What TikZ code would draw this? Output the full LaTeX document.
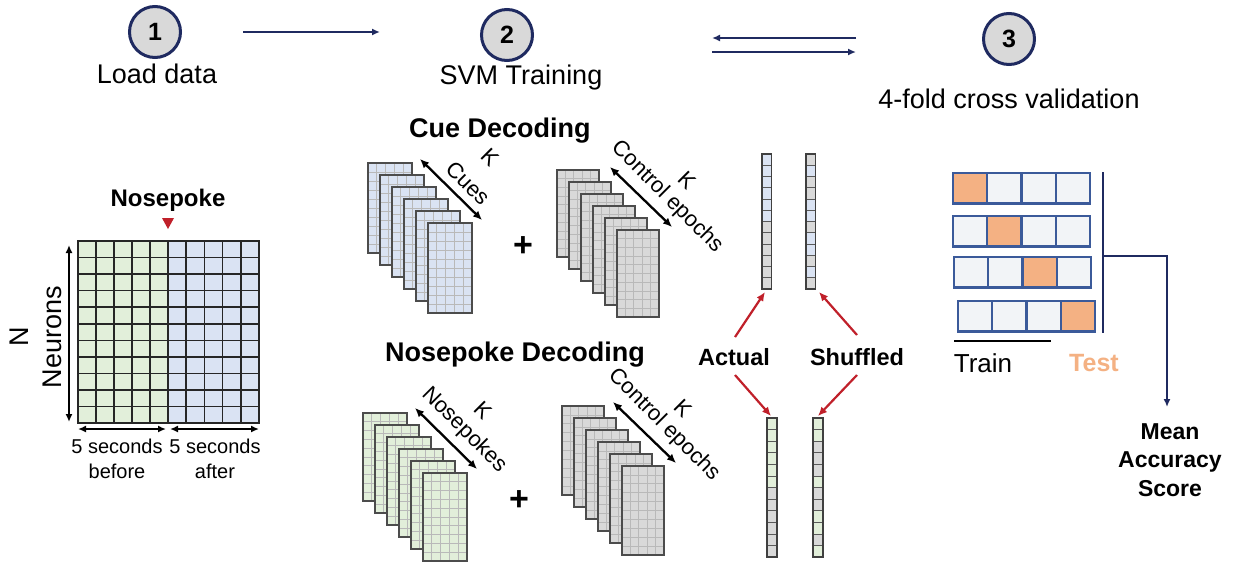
\documentclass[tikz,border=0pt]{standalone}
\usepackage{fontspec}
\setmainfont{Liberation Sans}
\usetikzlibrary{arrows.meta}
\definecolor{navy}{HTML}{1F2A60}
\definecolor{circg}{HTML}{D9D9D9}
\definecolor{npgreen}{HTML}{E2EFDA}
\definecolor{cueblue}{HTML}{DAE3F3}
\definecolor{shgray}{HTML}{D9D9D9}
\definecolor{orng}{HTML}{F4B183}
\definecolor{cvfill}{HTML}{F2F4F7}
\definecolor{cvline}{HTML}{3B5A9A}
\definecolor{redc}{HTML}{C0202A}
\newcommand\mysheet[5]{%
  \fill[#5] (#1,#2) rectangle ++(#3,#4);
  \foreach \i in {1,...,4} \draw[sheetgrid] ({#1+\i*#3/5},#2) -- ++(0,#4);
  \foreach \j in {1,...,9} \draw[sheetgrid] (#1,{#2+\j*#4/10}) -- ++(#3,0);
  \draw[sheetborder] (#1,#2) rectangle ++(#3,#4);
  \draw[sheetborder, line width=2.4pt] (#1,{#2+#4}) -- ++(#3,0);
}
\newcommand\myvec[5]{%
  \foreach \c [count=\n from 0] in {#5} {
    \fill[\c] (#1,{#2+\n*#4}) rectangle ++(#3,#4);
    \draw[vecgrid] (#1,{#2+\n*#4}) -- ++(#3,0);
  }
  \draw[vecborder] (#1,#2) rectangle ++(#3,{12*#4});
}
\tikzset{
  stepcirc/.style={circle, draw=navy, line width=3pt, fill=circg, minimum size=51pt, inner sep=0pt, font=\fontsize{25}{27}\selectfont\bfseries},
  big/.style={font=\fontsize{27}{32}\selectfont},
  bigbold/.style={font=\fontsize{27}{32}\selectfont\bfseries},
  midbold/.style={font=\fontsize{23.5}{28}\selectfont\bfseries},
  smalltxt/.style={font=\fontsize{20}{25}\selectfont, align=center},
  ktxt/.style={font=\fontsize{22}{26}\selectfont, rotate=-45},
  plus/.style={font=\fontsize{34}{36}\selectfont\bfseries},
  navyarrow/.style={draw=navy, line width=2pt, -{Latex[length=8pt,width=7pt]}},
  redarrow/.style={draw=redc, line width=2.2pt, -{Latex[length=9pt,width=8pt]}},
  karrow/.style={draw=black, line width=2.3pt, {Latex[length=9pt,width=8pt]}-{Latex[length=9pt,width=8pt]}},
  blackarrow/.style={draw=black, line width=2.3pt, {Latex[length=8pt,width=7pt]}-{Latex[length=8pt,width=7pt]}},
  sheetgrid/.style={draw=gray!55, line width=0.7pt},
  sheetborder/.style={draw=black!70, line width=1.5pt},
  datagrid/.style={draw=black!85, line width=1.6pt},
  vecgrid/.style={draw=black!65, line width=0.9pt},
  vecborder/.style={draw=black!75, line width=1.5pt},
  cvcell/.style={draw=cvline, line width=2.2pt},
}
\begin{document}
\begin{tikzpicture}[x=1pt,y=-1pt]
\useasboundingbox (0,0) rectangle (1236,563);

% ---- steps ----
\node[stepcirc] (c1) at (155,32) {1};
\node[stepcirc] (c2) at (507,35) {2};
\node[stepcirc] (c3) at (1009,39) {3};
\node[big] (l1) at (157,74) {Load data};
\node[big] (l2) at (521,78) {SVM Training};
\node[big] (l3) at (1009,99) {4-fold cross validation};
\coordinate (a1s) at (243,32); \coordinate (a1e) at (380,32);
\draw[navyarrow] (a1s) -- (a1e);
\coordinate (a2s) at (856,38); \coordinate (a2e) at (712,38);
\draw[navyarrow] (a2s) -- (a2e);
\coordinate (a3s) at (712,52); \coordinate (a3e) at (856,52);
\draw[navyarrow] (a3s) -- (a3e);

% ---- data matrix ----
\fill[npgreen] (78,241) rectangle (168,423);
\fill[cueblue] (168,241) rectangle (259,423);
\foreach \i in {1,...,4} {
  \draw[datagrid] ({78+\i*18},241) -- ({78+\i*18},423);
  \draw[datagrid] ({168+\i*18.2},241) -- ({168+\i*18.2},423);
}
\foreach \j in {1,...,10} \draw[datagrid] (78,{241+\j*16.55}) -- (259,{241+\j*16.55});
\draw[draw=black!85, line width=1.8pt] (78,241) rectangle (259,423);
\draw[draw=black!85, line width=2.6pt] (168,241) -- (168,423);
\node[font=\fontsize{24}{28}\selectfont\bfseries] (np) at (168,200) {Nosepoke};
\fill[redc] (162,218) -- (174,218) -- (168,229) -- cycle;
\coordinate (nt) at (69,245); \coordinate (nb) at (69,422);
\draw[blackarrow] (nt) -- (nb);
\node[big, rotate=90, align=center, font=\fontsize{27}{33}\selectfont] (neur) at (36,337) {N\\Neurons};
\coordinate (b1) at (78,429); \coordinate (b2) at (166,429);
\coordinate (b3) at (170,429); \coordinate (b4) at (259,429);
\draw[blackarrow] (b1) -- (b2);
\draw[blackarrow] (b3) -- (b4);
\node[smalltxt] (bef) at (117,459) {5 seconds\\before};
\node[smalltxt] (aft) at (215,459) {5 seconds\\after};

% ---- decoding stacks ----
\node[bigbold] (cuedec) at (500,131) {Cue Decoding};
\node[bigbold] (npdec) at (515,355) {Nosepoke Decoding};
\foreach \k in {0,...,5} \mysheet{368+12*\k}{163+12*\k}{44}{90}{cueblue};
\foreach \k in {0,...,5} \mysheet{557+12*\k}{170+12*\k}{42}{87}{shgray};
\foreach \k in {0,...,5} \mysheet{363+12*\k}{413+12*\k}{44}{88}{npgreen};
\foreach \k in {0,...,5} \mysheet{562+12*\k}{406+12*\k}{42}{89}{shgray};
\node[plus] (p1) at (523,247) {+};
\node[plus] (p2) at (519,501) {+};

\coordinate (k1a) at (420,159); \coordinate (k1b) at (482,220);
\draw[karrow] (k1a) -- (k1b);
\node[ktxt] (cues) at (468,183) {Cues};
\node[ktxt] (k1) at (490,157) {K};
\coordinate (k2a) at (610,167); \coordinate (k2b) at (672,227);
\draw[karrow] (k2a) -- (k2b);
\node[ktxt] (ce1) at (667,197) {Control epochs};
\node[ktxt] (k2) at (687,180) {K};
\coordinate (k3a) at (415,408); \coordinate (k3b) at (477,469);
\draw[karrow] (k3a) -- (k3b);
\node[ktxt] (nps) at (464,430) {Nosepokes};
\node[ktxt] (k3) at (483,410) {K};
\coordinate (k4a) at (613,402); \coordinate (k4b) at (676,463);
\draw[karrow] (k4a) -- (k4b);
\node[ktxt] (ce2) at (664,425) {Control epochs};
\node[ktxt] (k4) at (683,408) {K};

% ---- label vectors ----
\myvec{762}{154}{9.5}{11.25}{cueblue,cueblue,cueblue,cueblue,cueblue,cueblue,shgray,shgray,shgray,shgray,shgray,shgray}
\myvec{806}{154}{9.5}{11.25}{shgray,cueblue,shgray,shgray,cueblue,cueblue,shgray,cueblue,cueblue,shgray,cueblue,shgray}
\myvec{767}{418}{10}{11.6}{npgreen,npgreen,npgreen,npgreen,npgreen,npgreen,shgray,shgray,shgray,shgray,shgray,shgray}
\myvec{813}{418}{10}{11.6}{npgreen,npgreen,shgray,shgray,shgray,npgreen,shgray,shgray,npgreen,npgreen,shgray,npgreen}
\node[midbold] (act) at (734,357) {Actual};
\node[midbold] (shf) at (857,357) {Shuffled};
\coordinate (v1) at (765,292); \coordinate (v2) at (819,292);
\coordinate (v3) at (771,416); \coordinate (v4) at (818,416);
\coordinate (r1) at (735,337); \coordinate (r2) at (857,335);
\coordinate (r3) at (735,375); \coordinate (r4) at (857,375);
\draw[redarrow] (r1) -- (v1);
\draw[redarrow] (r2) -- (v2);
\draw[redarrow] (r3) -- (v3);
\draw[redarrow] (r4) -- (v4);

% ---- cross validation ----
\foreach \x/\y/\o in {953/173/0, 953/216/1, 954/257/2, 958/301/3} {
  \foreach \m in {0,...,3} {
    \ifnum\m=\o
      \filldraw[cvcell, fill=orng] ({\x+\m*34.25},\y) rectangle ++(34.25,30.5);
    \else
      \filldraw[cvcell, fill=cvfill] ({\x+\m*34.25},\y) rectangle ++(34.25,30.5);
    \fi
  }
}
\coordinate (vt) at (1103,172); \coordinate (vb) at (1103,333);
\draw[navy, line width=2.8pt] (vt) -- (vb);
\coordinate (vm) at (1103,256);
\node[midbold, align=center, font=\fontsize{23}{28.5}\selectfont\bfseries] (mas) at (1170,460) {Mean\\Accuracy\\Score};
\coordinate (me) at (1167,407);
\draw[navyarrow] (vm) -| (me);
\coordinate (tu1) at (954,341); \coordinate (tu2) at (1051,341);
\draw[black, line width=2.2pt] (tu1) -- (tu2);
\node[font=\fontsize{26}{30}\selectfont] (train) at (983,363) {Train};
\node[font=\fontsize{25}{30}\selectfont\bfseries, text=orng] (test) at (1094,363) {Test};
\end{tikzpicture}
\end{document}
